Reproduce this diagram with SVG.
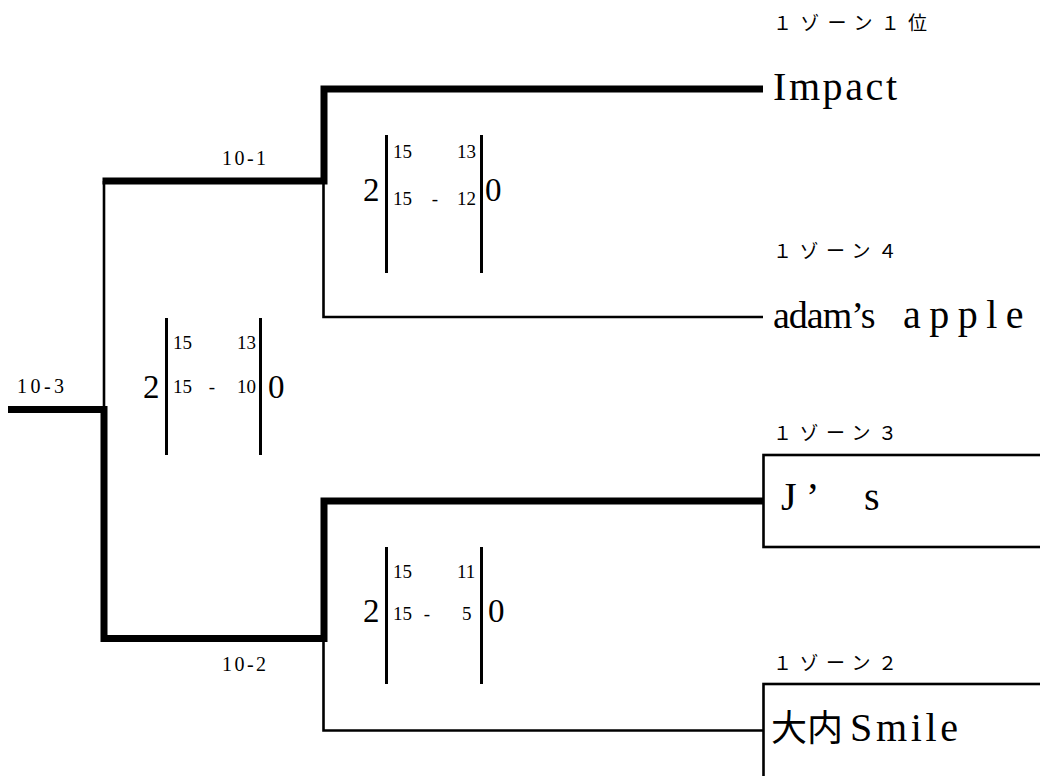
<svg xmlns="http://www.w3.org/2000/svg" width="1040" height="776" viewBox="0 0 1040 776">
<style>
.thick{fill:none;stroke:#000;stroke-width:7;stroke-linejoin:miter;stroke-linecap:butt}
.thin{fill:none;stroke:#000;stroke-width:2.6;stroke-linejoin:miter;stroke-linecap:butt}
.bar{stroke:#000;stroke-width:3}
.box{fill:none;stroke:#000;stroke-width:2.6}
.zone{font-family:"Noto Sans CJK JP","Noto Sans",sans-serif;font-size:19px;fill:#000}
.team{font-family:"Liberation Serif","Noto Sans CJK JP",serif;font-size:40px;fill:#000}
.cjk{font-family:"Noto Sans CJK JP",sans-serif;font-size:36px;fill:#000}
.sm{font-family:"Liberation Serif",serif;font-size:19px;fill:#000}
.big{font-family:"Liberation Serif",serif;font-size:33px;fill:#000}
.rl{font-family:"Liberation Serif",serif;font-size:20px;fill:#000}
</style>
<rect width="1040" height="776" fill="#fff"/>
<g id="connectors">
<path class="thick" d="M763 89 H324 V181 H102.5"/>
<path class="thick" d="M763 501 H324 V638.5 H104 V409.5 H8"/>
<path class="thin" d="M104 181 V409.5"/>
<path class="thin" d="M323.5 184 V317 H763"/>
<path class="thin" d="M323.5 641 V730.5 H763"/>
</g>
<g id="round-labels">
<text class="rl" x="222" y="165" textLength="44">10-1</text>
<text class="rl" x="222" y="671" textLength="44">10-2</text>
<text class="rl" x="17" y="393" textLength="47">10-3</text>
</g>
<g id="match-top">
<line class="bar" x1="386.5" y1="135" x2="386.5" y2="273"/>
<line class="bar" x1="481.5" y1="135" x2="481.5" y2="273"/>
<text class="big" x="363" y="201">2</text>
<text class="big" x="485" y="201">0</text>
<text class="sm" x="393" y="158">15</text>
<text class="sm" x="457" y="158">13</text>
<text class="sm" x="393" y="205">15</text>
<text class="sm" x="435" y="205" text-anchor="middle">-</text>
<text class="sm" x="457" y="205">12</text>
</g>
<g id="match-final">
<line class="bar" x1="166.5" y1="318" x2="166.5" y2="455"/>
<line class="bar" x1="260.5" y1="318" x2="260.5" y2="455"/>
<text class="big" x="143" y="398">2</text>
<text class="big" x="268" y="398">0</text>
<text class="sm" x="173" y="349">15</text>
<text class="sm" x="237" y="349">13</text>
<text class="sm" x="173" y="393">15</text>
<text class="sm" x="212" y="393" text-anchor="middle">-</text>
<text class="sm" x="237" y="393">10</text>
</g>
<g id="match-bottom">
<line class="bar" x1="386.5" y1="547" x2="386.5" y2="684"/>
<line class="bar" x1="481.5" y1="547" x2="481.5" y2="684"/>
<text class="big" x="363" y="622">2</text>
<text class="big" x="488" y="622">0</text>
<text class="sm" x="393" y="578">15</text>
<text class="sm" x="457" y="578">11</text>
<text class="sm" x="393" y="620">15</text>
<text class="sm" x="427" y="620" text-anchor="middle">-</text>
<text class="sm" x="462" y="620">5</text>
</g>
<g id="team-impact">
<text class="zone" x="773" y="30" textLength="154">１ゾーン１位</text>
<text class="team" x="773" y="100" textLength="124">Impact</text>
</g>
<g id="team-adams-apple">
<text class="zone" x="773" y="258" textLength="124">１ゾーン４</text>
<text class="team" y="328"><tspan x="773" font-size="38" letter-spacing="-1">adam’s</tspan> <tspan x="903" letter-spacing="8.5">apple</tspan></text>
</g>
<g id="team-js">
<text class="zone" x="773" y="440" textLength="124">１ゾーン３</text>
<rect class="box" x="763.5" y="455" width="300" height="92"/>
<text class="team" y="510"><tspan x="781">J</tspan><tspan x="806">’ </tspan><tspan x="864">s</tspan></text>
</g>
<g id="team-ouchi-smile">
<text class="zone" x="773" y="670" textLength="124">１ゾーン２</text>
<rect class="box" x="763.5" y="684" width="300" height="95"/>
<text class="cjk" x="771" y="741">大内</text>
<text class="team" x="850" y="741" textLength="108">Smile</text>
</g>
</svg>
